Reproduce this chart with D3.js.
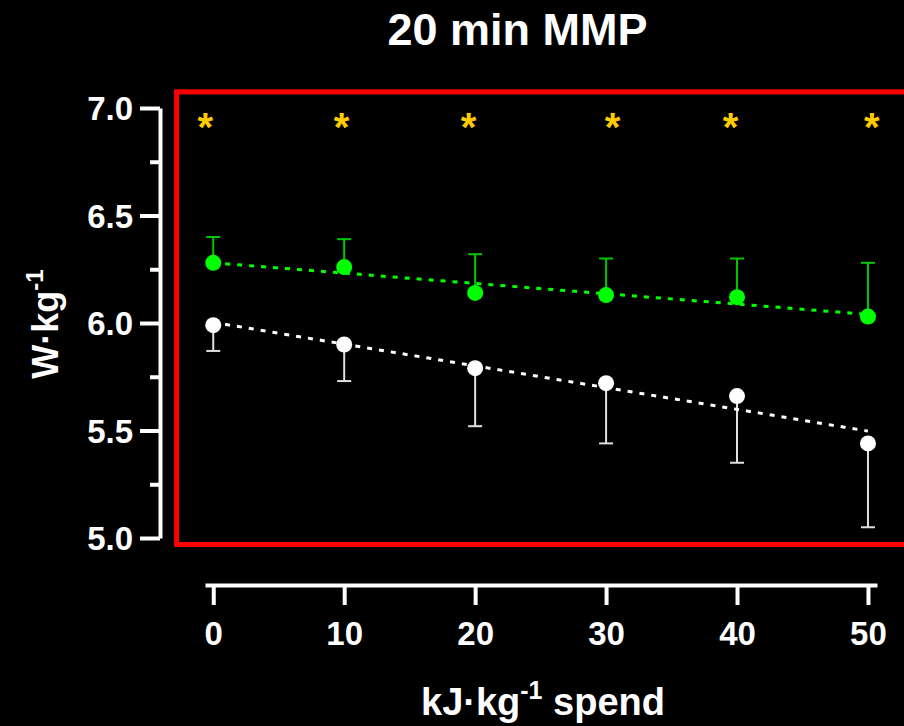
<!DOCTYPE html>
<html>
<head>
<meta charset="utf-8">
<script src="https://cdn.jsdelivr.net/npm/d3@7"></script>
<style>
  html, body { margin: 0; padding: 0; background: #000; }
  svg { display: block; }
  text { font-family: "Liberation Sans", Arial, sans-serif; font-weight: bold; }
</style>
</head>
<body>
<svg id="chart" width="904" height="726"></svg>
<script>
// ---- data ----
const kj = [0, 10, 20, 30, 40, 50];
const greenMean = [6.28, 6.26, 6.14, 6.13, 6.12, 6.03];
const greenUpper = [6.40, 6.39, 6.32, 6.30, 6.30, 6.28];
const whiteMean = [5.99, 5.90, 5.79, 5.72, 5.66, 5.44];
const whiteLower = [5.87, 5.73, 5.52, 5.44, 5.35, 5.05];
const sigX = [-0.6, 9.8, 19.5, 30.5, 39.5, 50.3];
const sigY = 6.94;
const xTicks = [0, 10, 20, 30, 40, 50];
const yTicksMajor = [5.0, 5.5, 6.0, 6.5, 7.0];
const yTicksMinor = [5.25, 5.75, 6.25, 6.75];

const svg = d3.select("#chart");
svg.append("rect").attr("width", 904).attr("height", 726).attr("fill", "#000");

const x = d3.scaleLinear().domain([-0.63, 50.69]).range([205, 877]);
const y = d3.scaleLinear().domain([5, 7]).range([538, 108]);

// red frame
svg.append("rect")
  .attr("x", x(-2.8)).attr("y", y(7.075))
  .attr("width", 920 - x(-2.8)).attr("height", y(4.97) - y(7.075))
  .attr("fill", "none").attr("stroke", "#FF0000").attr("stroke-width", 5);

// title
svg.append("text").attr("x", 517.5).attr("y", 45).attr("text-anchor", "middle")
  .attr("fill", "#fff").attr("font-size", 45).text("20 min MMP");

// y axis
const yAxis = svg.append("g").attr("transform", "translate(160,0)")
  .call(d3.axisLeft(y).tickValues(yTicksMajor).tickSize(20).tickSizeOuter(0)
        .tickPadding(7).tickFormat(d3.format(".1f")));
yAxis.selectAll(".tick line").attr("stroke", "#fff").attr("stroke-width", 4);
yAxis.select(".domain").attr("stroke", "#fff").attr("stroke-width", 4);
yAxis.selectAll(".tick text").attr("fill", "#fff").attr("font-size", 33)
  .attr("font-family", "Liberation Sans, Arial, sans-serif").attr("font-weight", "bold")
  .attr("dy", "0.36em");
const yMinor = svg.append("g").attr("transform", "translate(160,0)")
  .call(d3.axisLeft(y).tickValues(yTicksMinor).tickSize(10).tickSizeOuter(0).tickFormat(""));
yMinor.select(".domain").remove();
yMinor.selectAll(".tick line").attr("stroke", "#fff").attr("stroke-width", 4);

// x axis
const xAxis = svg.append("g").attr("transform", "translate(0,585)")
  .call(d3.axisBottom(x).tickValues(xTicks).tickSize(20).tickSizeOuter(0).tickPadding(17));
xAxis.selectAll(".tick line").attr("stroke", "#fff").attr("stroke-width", 4);
xAxis.select(".domain").attr("stroke", "#fff").attr("stroke-width", 4);
xAxis.selectAll(".tick text").attr("fill", "#fff").attr("font-size", 33)
  .attr("font-family", "Liberation Sans, Arial, sans-serif").attr("font-weight", "bold")
  .attr("dy", "0.71em");

// axis titles
const xl = svg.append("text").attr("x", 543).attr("y", 715).attr("text-anchor", "middle")
  .attr("fill", "#fff").attr("font-size", 38);
xl.append("tspan").text("kJ·kg");
xl.append("tspan").attr("font-size", 25).attr("dy", -16).text("-1");
xl.append("tspan").attr("dy", 16).text(" spend");

const yl = svg.append("text").attr("transform", "translate(58,324) rotate(-90)")
  .attr("text-anchor", "middle").attr("fill", "#fff").attr("font-size", 36);
yl.append("tspan").text("W·kg");
yl.append("tspan").attr("font-size", 24).attr("dy", -15).text("-1");

// regression
function fit(xs, ys) {
  const mx = d3.mean(xs), my = d3.mean(ys);
  let sxy = 0, sxx = 0;
  xs.forEach((v, i) => { sxy += (v - mx) * (ys[i] - my); sxx += (v - mx) * (v - mx); });
  const b = sxy / sxx;
  return { a: my - b * mx, b };
}

function series(mean, bound, dotColor, barColor) {
  const g = svg.append("g");
  kj.forEach((k, i) => {
    g.append("line").attr("x1", x(k)).attr("x2", x(k)).attr("y1", y(mean[i])).attr("y2", y(bound[i]))
      .attr("stroke", barColor).attr("stroke-width", 2);
    g.append("line").attr("x1", x(k) - 7).attr("x2", x(k) + 7).attr("y1", y(bound[i])).attr("y2", y(bound[i]))
      .attr("stroke", barColor).attr("stroke-width", 2);
  });
  const f = fit(kj, mean);
  g.append("line").attr("x1", x(0)).attr("x2", x(50))
    .attr("y1", y(f.a)).attr("y2", y(f.a + f.b * 50))
    .attr("stroke", dotColor).attr("stroke-width", 3).attr("stroke-dasharray", "5,7");
  g.selectAll("circle").data(mean).join("circle")
    .attr("cx", (d, i) => x(kj[i])).attr("cy", d => y(d)).attr("r", 8).attr("fill", dotColor);
}
series(whiteMean, whiteLower, "#FFFFFF", "#E0E0E0");
series(greenMean, greenUpper, "#00FF00", "#00C800");

// significance asterisks
svg.append("g").selectAll("text").data(sigX).join("text")
  .attr("x", d => x(d)).attr("y", y(sigY) + 20).attr("text-anchor", "middle")
  .attr("fill", "#FFCC00").attr("font-size", 40).text("*");
</script>
</body>
</html>
